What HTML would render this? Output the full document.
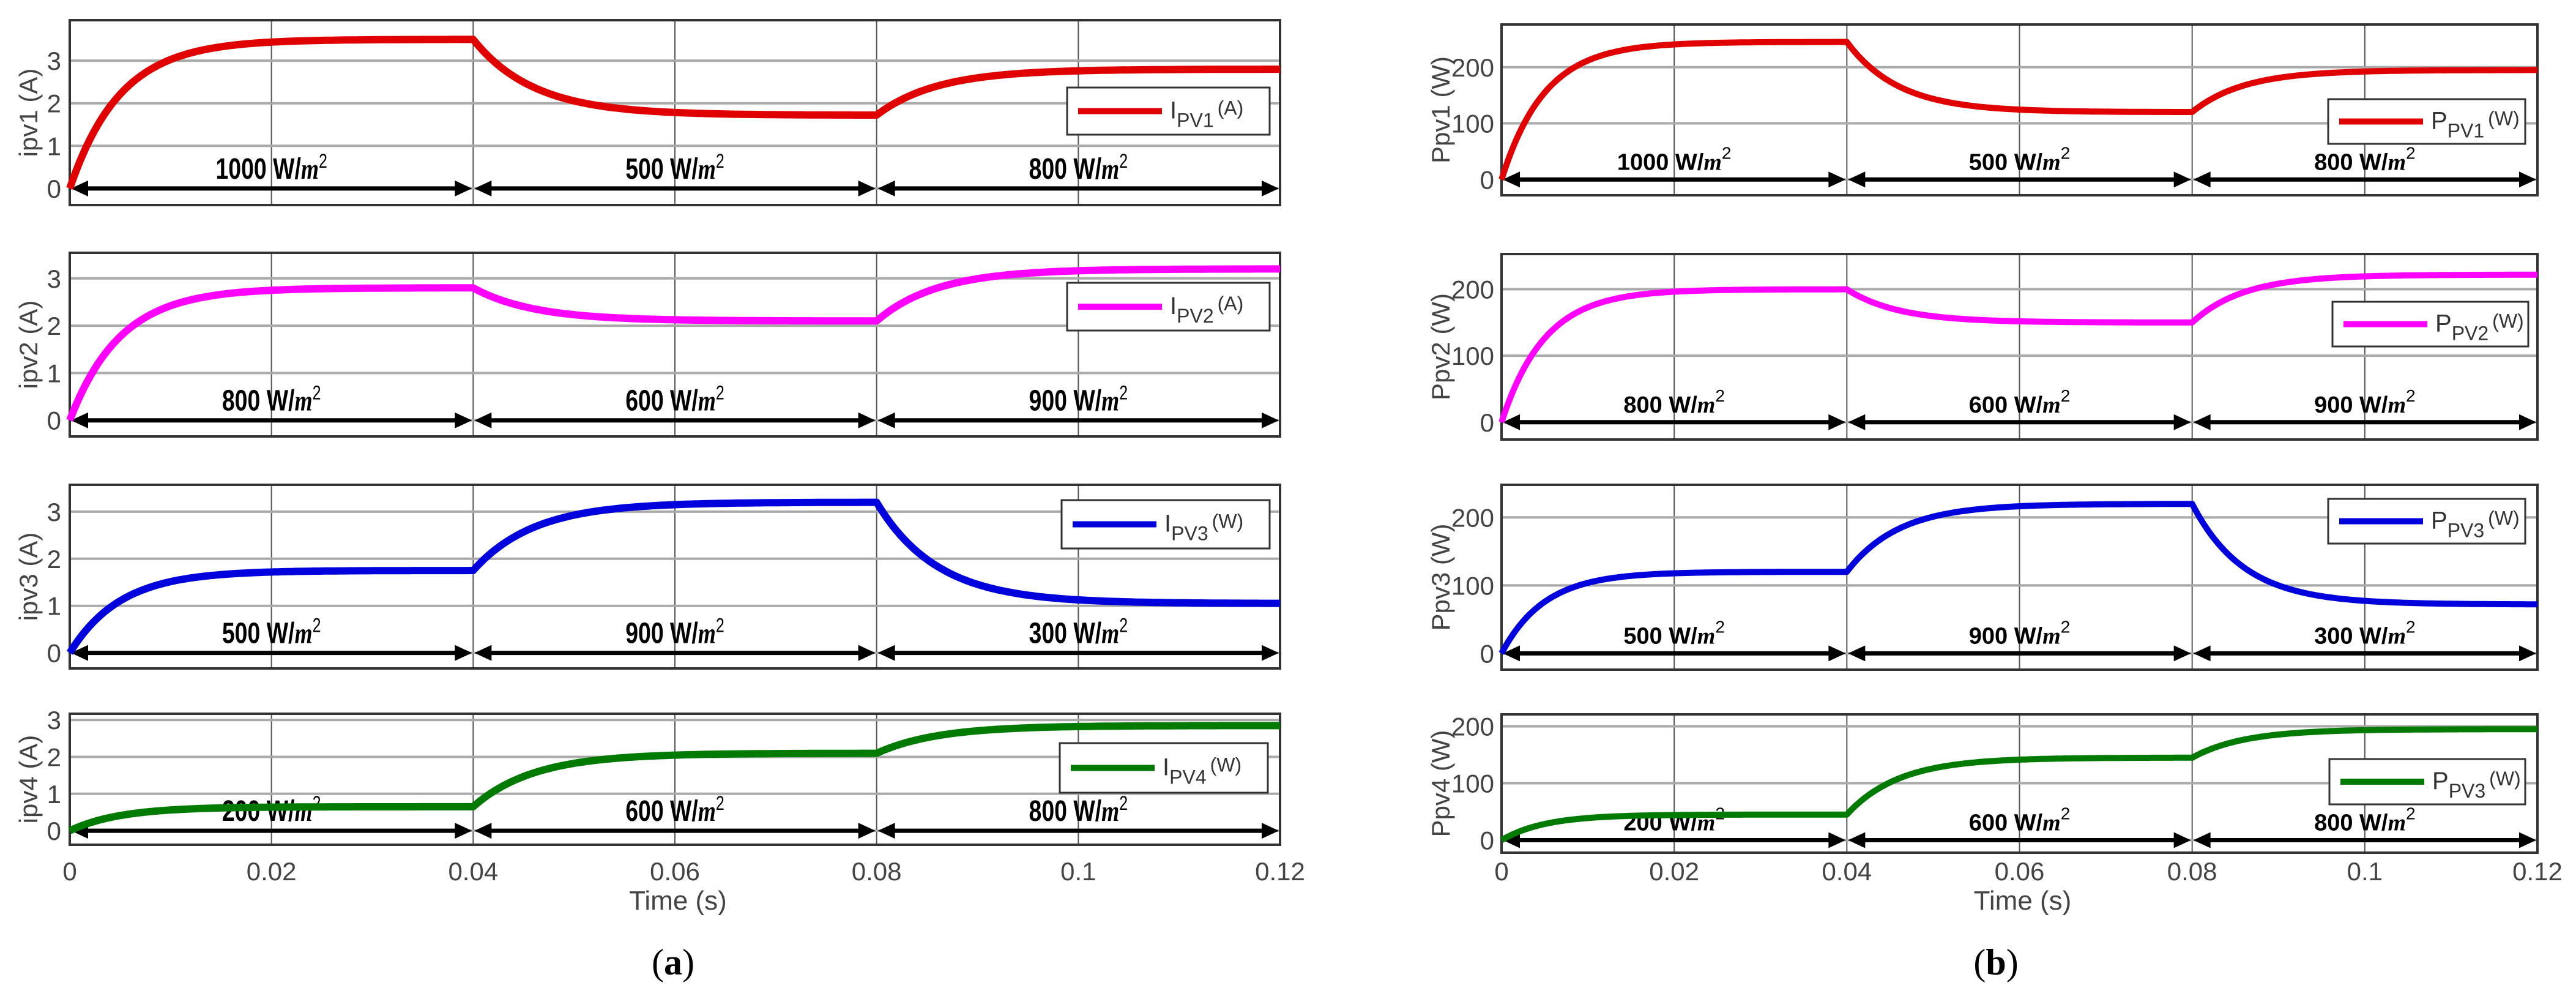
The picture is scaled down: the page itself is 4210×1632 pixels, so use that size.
<!DOCTYPE html>
<html><head><meta charset="utf-8"><style>
html,body{margin:0;padding:0;background:#fff;}
svg{display:block;}
</style></head><body>
<svg id="fig" width="4210" height="1632" viewBox="0 0 4210 1632" xmlns="http://www.w3.org/2000/svg"></svg>
<script>
// ---- data ----
const timeTicks = [0, 0.02, 0.04, 0.06, 0.08, 0.1, 0.12];
const timeTickLabels = ["0", "0.02", "0.04", "0.06", "0.08", "0.1", "0.12"];
const segmentBounds = [0, 0.04, 0.08, 0.12];
const currentTicks = [0, 1, 2, 3];
const powerTicks = [0, 100, 200];
const ipv1Levels = [3.5, 1.72, 2.8];
const ipv2Levels = [2.8, 2.1, 3.2];
const ipv3Levels = [1.75, 3.2, 1.05];
const ipv4Levels = [0.65, 2.1, 2.85];
const ppv1Levels = [245, 120, 195];
const ppv2Levels = [200, 150, 222];
const ppv3Levels = [120, 220, 72];
const ppv4Levels = [45, 145, 195];
const irr1 = ["1000", "500", "800"];
const irr2 = ["800", "600", "900"];
const irr3 = ["500", "900", "300"];
const irr4 = ["200", "600", "800"];
const tauSec = [0.005, 0.006, 0.006];

const NS = "http://www.w3.org/2000/svg";
const svg = document.getElementById("fig");
function mk(tag, attrs, parent) {
  const e = document.createElementNS(NS, tag);
  for (const k in attrs) e.setAttribute(k, attrs[k]);
  (parent || svg).appendChild(e);
  return e;
}

const colors = ["#e00000", "#ff00ff", "#0000dd", "#007a00"];
const left = {x0: 114, x1: 2092, tickRight: 100, ylabX: 50};
const right = {x0: 2454, x1: 4147, tickRight: 2442, ylabX: 2358};
const leftPanels = [
  {top: 33, bot: 335, ymin: -0.39, ymax: 3.95, lv: ipv1Levels, irr: irr1, lab: "ipv1 (A)", leg: ["I", "PV1", "(A)"], lb: [1744, 143, 2075, 220]},
  {top: 413, bot: 713, ymin: -0.34, ymax: 3.54, lv: ipv2Levels, irr: irr2, lab: "ipv2 (A)", leg: ["I", "PV2", "(A)"], lb: [1744, 462, 2075, 540]},
  {top: 792, bot: 1092, ymin: -0.33, ymax: 3.57, lv: ipv3Levels, irr: irr3, lab: "ipv3 (A)", leg: ["I", "PV3", "(W)"], lb: [1735, 817, 2075, 896]},
  {top: 1166, bot: 1380, ymin: -0.38, ymax: 3.17, lv: ipv4Levels, irr: irr4, lab: "ipv4 (A)", leg: ["I", "PV4", "(W)"], lb: [1732, 1214, 2072, 1295]}
];
const rightPanels = [
  {top: 40, bot: 319, ymin: -28, ymax: 276, lv: ppv1Levels, irr: irr1, lab: "Ppv1 (W)", leg: ["P", "PV1", "(W)"], lb: [3805, 162, 4127, 235]},
  {top: 415, bot: 718, ymin: -26, ymax: 253, lv: ppv2Levels, irr: irr2, lab: "Ppv2 (W)", leg: ["P", "PV2", "(W)"], lb: [3812, 493, 4132, 566]},
  {top: 792, bot: 1094, ymin: -24, ymax: 248, lv: ppv3Levels, irr: irr3, lab: "Ppv3 (W)", leg: ["P", "PV3", "(W)"], lb: [3805, 815, 4127, 888]},
  {top: 1167, bot: 1393, ymin: -22, ymax: 221, lv: ppv4Levels, irr: irr4, lab: "Ppv4 (W)", leg: ["P", "PV3", "(W)"], lb: [3807, 1240, 4127, 1314]}
];

function drawColumn(col, panels, yTicks, lw, side) {
  const xs = t => col.x0 + (t - 0) / 0.12 * (col.x1 - col.x0);
  panels.forEach((p, i) => {
    const ys = v => p.bot - (v - p.ymin) / (p.ymax - p.ymin) * (p.bot - p.top);
    const g = mk("g", {});
    
    
    timeTicks.forEach(t => {
      const l = mk("line", {x1: xs(t), x2: xs(t), y1: p.top, y2: p.bot, stroke: "#555", "stroke-width": 2}, g);
      
      
    });
    yTicks.forEach(v => {
      const l = mk("line", {x1: col.x0, x2: col.x1, y1: ys(v), y2: ys(v), stroke: "#aaa", "stroke-width": 4}, g);
      
      
      const tx = mk("text", {x: col.tickRight, y: ys(v) + 15, "text-anchor": "end", "font-family": "Liberation Sans, sans-serif", "font-size": 42, fill: "#444"}, g);
      tx.textContent = String(v);
      
      
    });
    const fr = mk("rect", {x: col.x0, y: p.top, width: col.x1 - col.x0, height: p.bot - p.top, fill: "none", stroke: "#333", "stroke-width": 4}, g);
    
    
    const cy = (p.top + p.bot) / 2;
    const yl = mk("text", {x: col.ylabX, y: cy, transform: "rotate(-90 " + col.ylabX + " " + cy + ")", "text-anchor": "middle", "dominant-baseline": "middle", "font-family": "Liberation Sans, sans-serif", "font-size": 42, fill: "#444"}, g);
    yl.textContent = p.lab;
    
    
    const ay = ys(0);
    for (let s = 0; s < 3; s++) {
      const a = xs(segmentBounds[s]) + 2, b = xs(segmentBounds[s + 1]) - 2;
      const ln = mk("line", {x1: a + 20, x2: b - 20, y1: ay, y2: ay, stroke: "#000", "stroke-width": 7}, g);
      
      
      const h1 = mk("polygon", {points: `${a},${ay} ${a + 28},${ay - 13} ${a + 28},${ay + 13}`, fill: "#000"}, g);
      
      
      const h2 = mk("polygon", {points: `${b},${ay} ${b - 28},${ay - 13} ${b - 28},${ay + 13}`, fill: "#000"}, g);
      
      
      const cx = (a + b) / 2;
      const isR = side === "right";
      const sx = isR ? 1 : 0.78;
      const gt = mk("g", {transform: `translate(${cx},${ay - 16}) scale(${sx},1)`}, g);
      const tx = mk("text", {x: 0, y: 0, "text-anchor": "middle", "font-family": "Liberation Sans, sans-serif", "font-size": isR ? 38 : 48, "font-weight": "bold", fill: "#000"}, gt);
      
      
      const t1 = mk("tspan", {}, tx); t1.textContent = p.irr[s] + " W/";
      const t2 = mk("tspan", {"font-style": "italic", "font-family": "Liberation Serif, serif"}, tx); t2.textContent = "m";
      const t3 = mk("tspan", {dy: -18, "font-size": isR ? 28 : 32, "font-weight": "normal"}, tx); t3.textContent = "2";
    }
    let d = "", prev = 0;
    for (let s = 0; s < 3; s++) {
      const t0 = segmentBounds[s], t1 = segmentBounds[s + 1], target = p.lv[s], tau = tauSec[s];
      for (let k = 0; k <= 120; k++) {
        const t = t0 + (t1 - t0) * k / 120;
        const v = target + (prev - target) * Math.exp(-(t - t0) / tau);
        d += (d ? " L" : "M") + xs(t).toFixed(1) + " " + ys(v).toFixed(1);
      }
      prev = target + (prev - target) * Math.exp(-(t1 - t0) / tau);
    }
    const cv = mk("path", {d: d, fill: "none", stroke: colors[i], "stroke-width": lw, "stroke-linejoin": "round"}, g);
    
    
    const [lx0, ly0, lx1, ly1] = p.lb, lcy = (ly0 + ly1) / 2;
    const lg = mk("g", {}, g);
    
    
    mk("rect", {x: lx0, y: ly0, width: lx1 - lx0, height: ly1 - ly0, fill: "#fff", stroke: "#333", "stroke-width": 3}, lg);
    const ll = mk("line", {x1: lx0 + 18, x2: lx0 + 155, y1: lcy, y2: lcy, stroke: colors[i], "stroke-width": 10}, lg);
    
    
    const lt = mk("text", {x: lx0 + 168, y: lcy + 12, "font-family": "Liberation Sans, sans-serif", "font-size": 40, fill: "#333"}, lg);
    
    
    const a1 = mk("tspan", {}, lt); a1.textContent = p.leg[0];
    const a2 = mk("tspan", {dy: 14, "font-size": 32}, lt); a2.textContent = p.leg[1];
    const a3 = mk("tspan", {dy: -20, "font-size": 32, dx: 6}, lt); a3.textContent = p.leg[2];
  });
  timeTicks.forEach((t, k) => {
    const tx = mk("text", {x: xs(t), y: 1438, "text-anchor": "middle", "font-family": "Liberation Sans, sans-serif", "font-size": 42, fill: "#444"});
    tx.textContent = timeTickLabels[k];
    
    
  });
  const xt = mk("text", {x: (col.x0 + col.x1) / 2 + 5, y: 1486, "text-anchor": "middle", "font-family": "Liberation Sans, sans-serif", "font-size": 44, fill: "#444"});
  xt.textContent = "Time (s)";
  
  
}

drawColumn(left, leftPanels, currentTicks, 12, "left");
drawColumn(right, rightPanels, powerTicks, 10, "right");

[["(", "a", ")", 1100, "caption-a"], ["(", "b", ")", 3262, "caption-b"]].forEach(c => {
  const t = mk("text", {x: c[3], y: 1592, "text-anchor": "middle", "font-family": "Liberation Serif, serif", "font-size": 60, fill: "#000"});
  
  
  const s1 = mk("tspan", {}, t); s1.textContent = c[0];
  const s2 = mk("tspan", {"font-weight": "bold"}, t); s2.textContent = c[1];
  const s3 = mk("tspan", {}, t); s3.textContent = c[2];
});
</script>
</body></html>
